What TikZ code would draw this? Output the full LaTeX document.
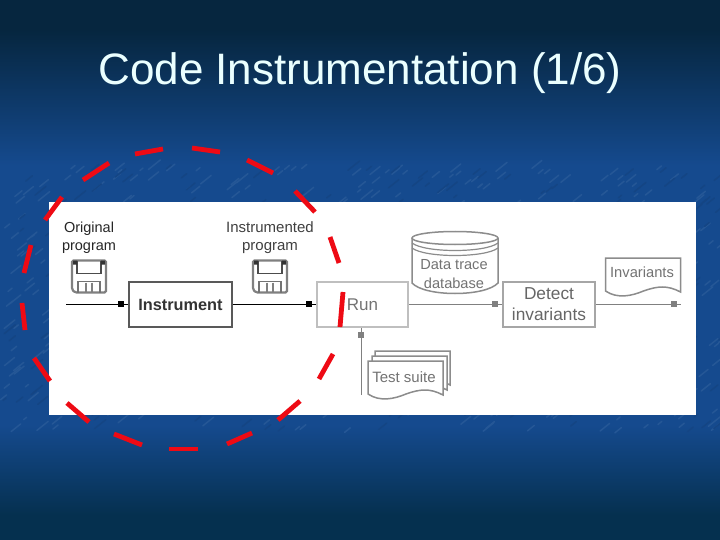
\documentclass[tikz,border=0pt]{standalone}
\usepackage{fontspec}
\setmainfont{Liberation Sans}
\usepackage{xcolor}
\usetikzlibrary{positioning,arrows.meta,calc,decorations.markings}
\definecolor{slideblue}{HTML}{154A8E}
\definecolor{slidedark}{HTML}{06263F}
\definecolor{slidelow}{HTML}{05304F}
\definecolor{ringred}{HTML}{EE0A14}
\definecolor{titlewhite}{HTML}{EAFFFF}
\tikzset{
  procbox/.style={draw=#1,fill=white,line width=2pt,minimum width=103pt,minimum height=45pt,inner sep=0pt,align=center},
  flow/.style={draw=#1,line width=1pt,postaction={decorate},
    decoration={markings,mark=at position -4pt with {\arrow[#1]{Rectangle[length=6pt,width=6pt]}}}},
  lbl/.style={align=center,inner sep=0pt},
  ringdash/.style={draw=ringred,line width=4.8pt},
  pics/floppy/.style={code={
    \draw[black!50,line width=2.2pt,rounded corners=1.5pt,fill=white] (-17,-16) -- (17,-16) -- (17,16) -- (-14,16) -- (-17,13) -- cycle;
    \draw[black!70,line width=1.5pt] (-12,-16) -- (-12,-3) -- (12,-3) -- (12,-16);
    \draw[black!55,line width=1.4pt] (-11,16) -- (-11,5) -- (11,5) -- (11,16);
    \draw[black!50,line width=1.2pt] (-3,6) -- (-3,16) (3,6) -- (3,16);
    \fill[black!80] (-16,-16) rectangle (-12,-12) (12,-16) rectangle (16,-12);
  }},
  pics/wavedoc/.style={code={
    \draw[#1,line width=1.5pt,fill=white] (0,0) -- (75,0) -- (75,34)
      .. controls (62,27) and (52,28) .. (38,33) .. controls (26,38) and (12,41) .. (0,33) -- cycle;
  }}
}
\begin{document}
\begin{tikzpicture}[x=1pt,y=-1pt]
  \useasboundingbox (0,0) rectangle (720,540);
  % slide background
  \fill[slideblue] (0,0) rectangle (720,540);
  \shade[top color=slidedark,bottom color=slideblue] (0,30) rectangle (720,165);
  \fill[slidedark] (0,0) rectangle (720,30);
  \shade[top color=slideblue,bottom color=slidelow] (0,425) rectangle (720,515);
  \fill[slidelow] (0,515) rectangle (720,540);
  \pgfmathsetseed{11}
  \foreach \i in {1,...,520} {
    \pgfmathsetmacro{\xa}{rnd*720}
    \pgfmathsetmacro{\ya}{168+rnd*265}
    \pgfmathsetmacro{\len}{3+rnd*9}
    \draw[slideblue!93!white,line width=1.5pt,line cap=round] (\xa,\ya) -- ++(\len,-\len*0.8);
  }
  \foreach \i in {1,...,300} {
    \pgfmathsetmacro{\xa}{rnd*720}
    \pgfmathsetmacro{\ya}{168+rnd*265}
    \pgfmathsetmacro{\len}{3+rnd*9}
    \draw[slideblue!93!black,line width=1.5pt,line cap=round] (\xa,\ya) -- ++(\len,-\len*0.8);
  }
  \node[font=\fontsize{44}{48}\selectfont,text=titlewhite,inner sep=0pt,anchor=base] (title) at (360,85) {Code Instrumentation (1/6)};
  % white panel
  \fill[white] (49,202) rectangle (696,415);
  % boxes
  \node[procbox=black!65,font=\fontsize{16.3}{18}\selectfont\bfseries,text=black!80] (instrument) at (180.5,304.5) {Instrument};
  \node[procbox=black!25,minimum width=91pt,lbl,text=black!55,font=\fontsize{17}{20}\selectfont] (run) at (362.5,304.5) {Run};
  \node[procbox=black!35,minimum width=92pt,lbl,text=black!60,font=\fontsize{17.3}{21}\selectfont] (detect) at (549,304.5) {Detect\\invariants};
  % left labels and disks
  \node[lbl,text=black!85,font=\fontsize{14.5}{18}\selectfont] (original) at (89,238) {Original\\program};
  \node[lbl,text=black!75,font=\fontsize{15}{18}\selectfont] (instrumented) at (270,238) {Instrumented\\program};
  \pic at (89,276.5) {floppy};
  \pic at (270,276.5) {floppy};
  % database
  \draw[black!45,line width=1.5pt,fill=white] (412,238) -- (412,283) .. controls (425,297) and (485,297) .. (498,283) -- (498,238);
  \draw[black!45,line width=1.5pt,fill=white] (455,238) ellipse (43 and 6.5);
  \draw[black!45,line width=1.2pt] (412,243) .. controls (425,253) and (485,253) .. (498,243);
  \draw[black!45,line width=1.2pt] (412,248) .. controls (425,258) and (485,258) .. (498,248);
  \node[lbl,text=black!55,font=\fontsize{14.6}{19}\selectfont] (trace) at (454,274.5) {Data trace\\database};
  % documents
  \pic at (605.5,258) {wavedoc=black!45};
  \node[lbl,text=black!55,font=\fontsize{14.7}{15}\selectfont] (invariants) at (642,272) {Invariants};
  \pic at (375,351) {wavedoc=black!45};
  \pic at (372,356) {wavedoc=black!45};
  \pic at (368,361) {wavedoc=black!45};
  \node[lbl,text=black!55,font=\fontsize{15}{15}\selectfont] (suite) at (404,377) {Test suite};
  % connectors
  \coordinate (orgin) at (66,304);
  \coordinate (invout) at (681,304);
  \coordinate (suiteout) at (361,395);
  \draw[flow=black] (orgin) -- (orgin -| instrument.west);
  \draw[flow=black] (instrument.east |- orgin) -- (orgin -| run.west);
  \draw[flow=black!50] (run.east |- orgin) -- (orgin -| detect.west);
  \draw[flow=black!50] (detect.east |- orgin) -- (invout);
  \draw[flow=black!50] (suiteout) -- (suiteout |- run.south);
  % red dashed ring
  \foreach \ax/\ay/\bx/\by in {135/154/163/149,192/148/220/152,247/160/273/173,295/191/315/212,
      330/237/339/263,343/292/340/327,333/354/319/379,300/401/278/420,252/433/227/444,
      198/449/169/449,142/445/114/434,89/422/67/403,50/381/34/358,25/330/22/303,
      24/273/31/245,45/220/62/197,83/180/109/163}
    \draw[ringdash] (\ax,\ay) -- (\bx,\by);
\end{tikzpicture}
\end{document}
